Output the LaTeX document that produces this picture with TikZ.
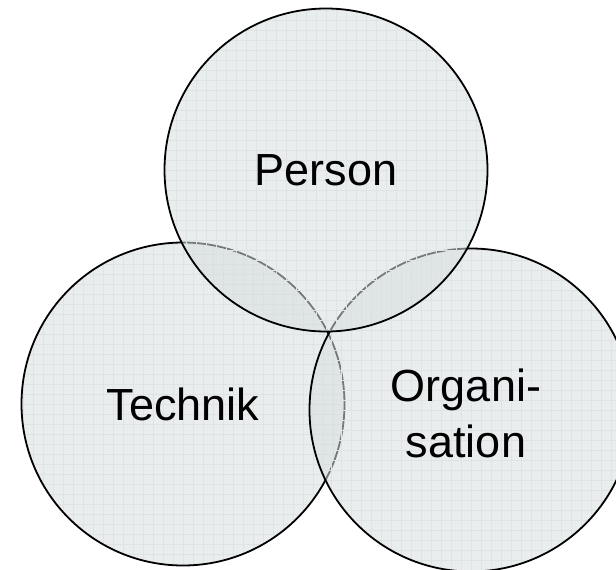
\documentclass[tikz,border=0pt]{standalone}
\usepackage{fontspec}
\setmainfont{Liberation Sans}
\definecolor{setfill}{RGB}{216,222,224}
\definecolor{setgrid}{RGB}{222,228,230}
\tikzset{
  set/.style={circle, draw=black, line width=1.8pt, fill=setfill, fill opacity=0.55,
    minimum size=323pt, inner sep=0pt,
    path picture={\draw[setgrid, line width=0.5pt, step=10pt]
      (path picture bounding box.south west) grid (path picture bounding box.north east);}},
  setname/.style={align=center, inner sep=0pt, font=\fontsize{45}{56}\selectfont}
}

\begin{document}
\begin{tikzpicture}[x=1pt,y=-1pt]
  \useasboundingbox (0,0) rectangle (616,570);
  % the three sets, front one last
  \node[set] (technik) at (183,404) {};
  \node[set] (orga) at (471,410) {};
  \node[set] (person) at (326,170) {};
  % names
  \node[setname] (technik text) at (technik) {Technik};
  \node[setname] (orga text) at ([xshift=-5pt,yshift=-3pt]orga.center) {Organi-\\sation};
  \node[setname] (person text) at (person) {Person};
\end{tikzpicture}
\end{document}
